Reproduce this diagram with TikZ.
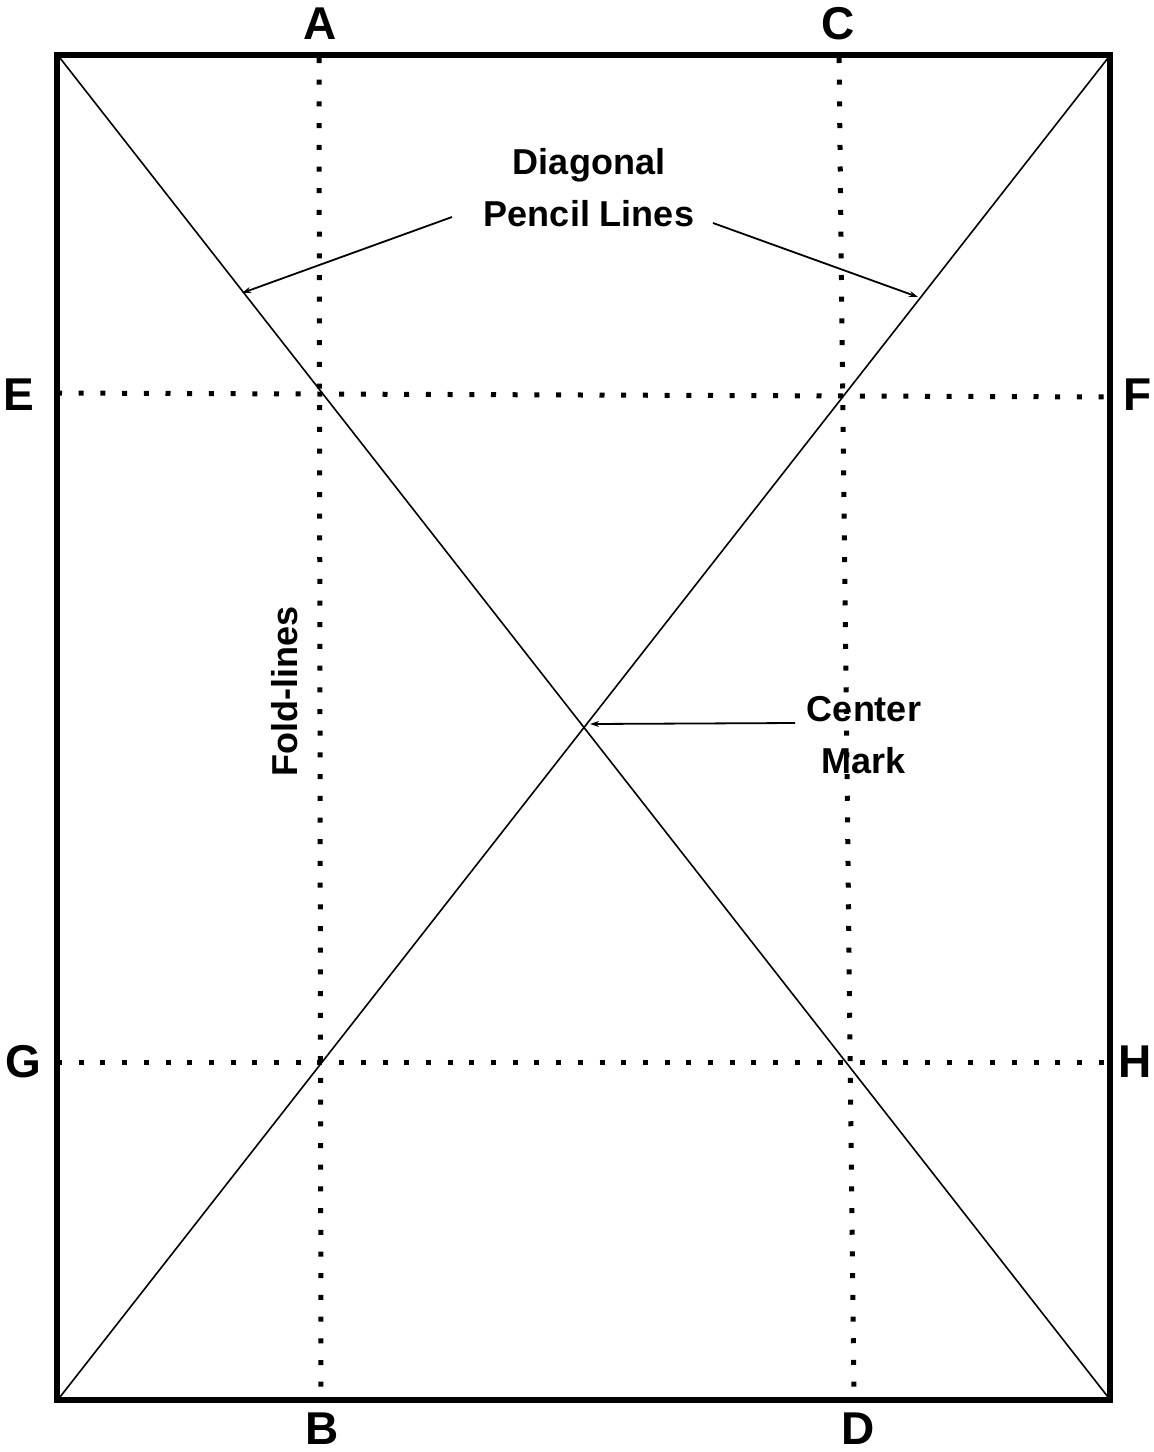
\documentclass[tikz,border=0pt]{standalone}
\usepackage{fontspec}
\setmainfont{Liberation Sans}
\usetikzlibrary{arrows.meta}
\begin{document}
\begin{tikzpicture}[x=1pt,y=-1pt,
  frame/.style={line width=6pt, line join=miter},
  diag/.style={line width=1.6pt},
  fold/.style={line width=5pt, dash pattern=on 5pt off 16.7pt},
  letter/.style={font=\fontsize{46}{50}\selectfont\bfseries, inner sep=0pt},
  caption/.style={font=\fontsize{36}{52}\selectfont\bfseries, align=center, inner sep=0pt},
  pointer/.style={line width=1.8pt, -{Stealth[length=9pt,width=6pt]}}]
\useasboundingbox (0,0) rectangle (1154,1452);
% corners
\coordinate (tl) at (60,58);
\coordinate (tr) at (1108,58);
\coordinate (bl) at (60,1397);
\coordinate (br) at (1108,1397);
% diagonals
\draw[diag] (tl) -- (br);
\draw[diag] (tr) -- (bl);
% fold line ends
\coordinate (a) at (319,58);
\coordinate (b) at (321,1400);
\coordinate (c) at (839,58);
\coordinate (d) at (854,1400);
\coordinate (e) at (57,393);
\coordinate (f) at (1110,397);
\coordinate (g) at (57,1062);
\coordinate (h) at (1110,1062);
\draw[fold] (a) -- (b);
\draw[fold] (c) -- (d);
\draw[fold] (e) -- (f);
\draw[fold] (g) -- (h);
% frame
\draw[frame] (57,55) rectangle (1110,1400);
% letters
\node[letter] (A) at (320,24) {A};
\node[letter] (C) at (838,24) {C};
\node[letter] (B) at (322,1429) {B};
\node[letter] (D) at (858,1429) {D};
\node[letter] (E) at (19,395) {E};
\node[letter] (F) at (1138,395) {F};
\node[letter] (G) at (23,1062) {G};
\node[letter] (H) at (1135,1062) {H};
% captions
\node[caption] (diaglbl) at (589,188) {Diagonal\\Pencil Lines};
\node[caption] (centerlbl) at (864,735) {Center\\Mark};
\node[caption, rotate=90] (foldlbl) at (285,691) {Fold-lines};
% pointers
\coordinate (p1s) at (452,217);
\coordinate (p1e) at (242,293);
\coordinate (p2s) at (713,223);
\coordinate (p2e) at (918,297);
\coordinate (p3s) at (795,723);
\coordinate (p3e) at (590,724);
\draw[pointer] (p1s) -- (p1e);
\draw[pointer] (p2s) -- (p2e);
\draw[pointer] (p3s) -- (p3e);
\end{tikzpicture}
\end{document}
